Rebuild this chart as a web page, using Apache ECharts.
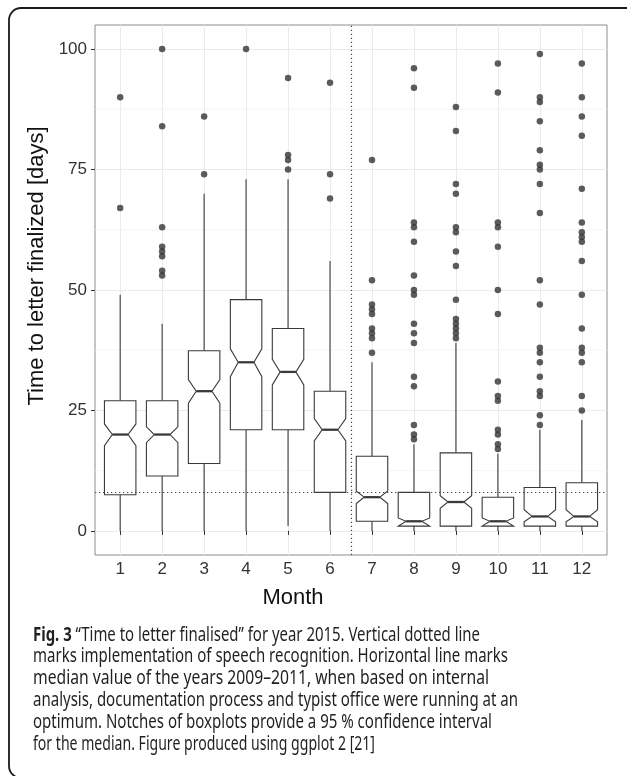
<!DOCTYPE html>
<html>
<head>
<meta charset="utf-8">
<script src="https://cdn.jsdelivr.net/npm/echarts@6/dist/echarts.min.js"></script>
<style>
html,body{margin:0;padding:0;background:#fff;}
#chart{width:627px;height:776px;}
</style>
</head>
<body>
<div id="chart"></div>
<script>
// ---------- data ----------
const months = ['1','2','3','4','5','6','7','8','9','10','11','12'];
const lowerWhisker = [0, 0, 0, 0, 1, 0, 0, 0, 0, 0, 0, 0];
const q1          = [7.5, 11.4, 14, 21, 21, 8, 2, 1, 1, 1, 1, 1];
const notchLow    = [17.7, 18.3, 26.5, 32, 30.3, 18.7, 5.7, 1.0, 4.7, 1.0, 1.9, 1.9];
const median      = [20, 20, 29, 35, 33, 21, 7, 2, 6, 2, 3, 3];
const notchHigh   = [22.2, 21.6, 31.4, 37.8, 35.6, 23.3, 8.3, 2.7, 7.3, 2.7, 4.4, 4.4];
const q3          = [27, 27, 37.4, 48, 42, 29, 15.5, 8, 16.2, 7, 9, 10];
const upperWhisker= [49, 43, 70, 73, 73, 56, 35, 18, 39, 16, 21, 23];
const outliers = [
  [67, 90],
  [53, 54, 57, 58, 59, 63, 84, 100],
  [74, 86],
  [100],
  [75, 77, 78, 94],
  [69, 74, 93],
  [37, 40, 41, 42, 45, 46, 47, 52, 77],
  [19, 20, 22, 30, 32, 39, 41, 43, 49, 50, 53, 60, 63, 64, 92, 96],
  [40, 41, 42, 43, 44, 48, 55, 58, 62, 63, 70, 72, 83, 88],
  [17, 18, 20, 21, 27, 28, 31, 45, 50, 59, 63, 64, 91, 97],
  [22, 24, 28, 29, 32, 35, 37, 38, 47, 52, 66, 72, 75, 76, 79, 85, 89, 90, 99],
  [25, 28, 35, 37, 38, 42, 49, 56, 60, 61, 62, 64, 71, 82, 86, 90, 97]
];
const yTicks = [0, 25, 50, 75, 100];
const yMinorGrid = [12.5, 37.5, 62.5, 87.5];
const referenceMedian = 8;      // horizontal dotted line
const speechRecognitionStart = 6.5; // vertical dotted line (between month 6 and 7)

const yTitle = 'Time to letter finalized [days]';
const xTitle = 'Month';
const captionBold = 'Fig. 3';
const captionLines = [
  ' \u201CTime to letter finalised\u201D for year 2015. Vertical dotted line',
  'marks implementation of speech recognition. Horizontal line marks',
  'median value of the years 2009\u20132011, when based on internal',
  'analysis, documentation process and typist office were running at an',
  'optimum. Notches of boxplots provide a 95 % confidence interval',
  'for the median. Figure produced using ggplot 2 [21]'
];

// ---------- build ----------
const boxData = months.map((m, i) => [i + 1, lowerWhisker[i], q1[i], notchLow[i], median[i], notchHigh[i], q3[i], upperWhisker[i]]);
const outlierData = [];
outliers.forEach((arr, i) => arr.forEach(v => outlierData.push([i + 1, v])));
const monthPositions = months.map((m, i) => i + 1);

const ink = '#333333';
const boxStroke = '#3a3a3a';

function renderBox(params, api) {
  const x = api.value(0);
  const lw = api.value(1), b1 = api.value(2), nl = api.value(3), md = api.value(4), nu = api.value(5), b3 = api.value(6), uw = api.value(7);
  const half = 0.375, nh = 0.1875;
  const P = (xx, yy) => api.coord([xx, yy]);
  const poly = [P(x - half, b3), P(x - half, nu), P(x - nh, md), P(x - half, nl), P(x - half, b1),
                P(x + half, b1), P(x + half, nl), P(x + nh, md), P(x + half, nu), P(x + half, b3)];
  const ln = (a, b, w) => ({ type: 'line', shape: { x1: a[0], y1: a[1], x2: b[0], y2: b[1] }, style: { stroke: boxStroke, lineWidth: w } });
  return {
    type: 'group',
    children: [
      ln(P(x, b3), P(x, uw), 1.1),
      ln(P(x, b1), P(x, lw), 1.1),
      { type: 'polygon', shape: { points: poly }, style: { fill: '#ffffff', stroke: boxStroke, lineWidth: 1.1 } },
      ln(P(x - nh, md), P(x + nh, md), 2.3)
    ]
  };
}

function renderMinorGrid(params, api) {
  const y = api.coord([1, api.value(0)])[1];
  const cs = params.coordSys;
  return { type: 'line', shape: { x1: cs.x, y1: y, x2: cs.x + cs.width, y2: y }, style: { stroke: '#f3f3f3', lineWidth: 0.8 } };
}

// caption graphics (scaled horizontally to match the narrow caption face)
const capFont = 'Noto Sans';
const capSize = 19.5;
const capTargets = [447, 475, 456, 485, 459, 342];
const capBaseline0 = 641.5, capStep = 21.9;
const mctx = document.createElement('canvas').getContext('2d');
function measure(t, weight) { mctx.font = weight + ' ' + capSize + 'px "' + capFont + '"'; return mctx.measureText(t).width; }
const captionGraphics = captionLines.map((t, i) => {
  let w = measure(t, 'normal');
  let text = t;
  const rich = { b: { fontWeight: 'bold', fontFamily: capFont, fontSize: capSize, fill: '#231f20' } };
  if (i === 0) { w += measure(captionBold, 'bold'); text = '{b|' + captionBold + '}' + t; }
  return {
    type: 'text', x: 33, y: capBaseline0 + capStep * i - 6.5, scaleX: capTargets[i] / w,
    style: { text: text, fontFamily: capFont, fontSize: capSize, fill: '#231f20', align: 'left', verticalAlign: 'middle', rich: rich }
  };
});

const chart = echarts.init(document.getElementById('chart'), null, { renderer: 'canvas' });
chart.setOption({
  animation: false,
  backgroundColor: '#ffffff',
  textStyle: { fontFamily: 'Liberation Sans' },
  grid: { left: 95, top: 25, width: 512, height: 530, show: true, borderColor: '#8c8c8c', borderWidth: 1, backgroundColor: '#ffffff' },
  xAxis: {
    type: 'value', min: 0.4, max: 12.6,
    name: xTitle, nameLocation: 'middle', nameGap: 32,
    nameTextStyle: { fontSize: 22, color: '#111', fontFamily: 'Liberation Sans', padding: [0, 116, 0, 0] },
    axisLine: { show: false },
    axisTick: { show: true, length: 4, lineStyle: { color: ink }, customValues: monthPositions },
    axisLabel: { customValues: monthPositions, fontSize: 17, color: ink, margin: 6, formatter: v => months[Math.round(v) - 1] },
    splitLine: { show: true, lineStyle: { color: '#ebebeb', width: 1 } }
  },
  yAxis: {
    type: 'value', min: -5, max: 105,
    name: yTitle, nameLocation: 'middle', nameGap: 42,
    nameTextStyle: { fontSize: 22, color: '#111', fontFamily: 'Liberation Sans', padding: [0, 0, 0, 48] },
    axisLine: { show: false },
    axisTick: { show: true, length: 4, lineStyle: { color: ink }, customValues: yTicks },
    axisLabel: { customValues: yTicks, fontSize: 17, color: ink, margin: 8 },
    splitLine: { show: true, lineStyle: { color: '#ebebeb', width: 1 } }
  },
  graphic: [
    { type: 'rect', z: -10, shape: { x: 9, y: 8, width: 632, height: 770, r: 12 }, style: { fill: 'none', stroke: '#1a1a1a', lineWidth: 1.8 } }
  ].concat(captionGraphics),
  series: [
    { type: 'custom', z: 1, renderItem: renderMinorGrid, data: yMinorGrid.map(v => [v]), encode: { y: 0 }, silent: true },
    { type: 'custom', z: 3, renderItem: renderBox, data: boxData, encode: { x: 0, y: [1, 2, 3, 4, 5, 6, 7] }, silent: true },
    {
      type: 'scatter', z: 4, data: outlierData, symbol: 'circle', symbolSize: 6.5,
      itemStyle: { color: '#333333' }, silent: true,
      markLine: {
        silent: true, symbol: ['none', 'none'], label: { show: false },
        lineStyle: { type: [1.3, 2.7], color: '#444', width: 1.2 },
        data: [{ yAxis: referenceMedian }, { xAxis: speechRecognitionStart }]
      }
    }
  ]
});
</script>
</body>
</html>
